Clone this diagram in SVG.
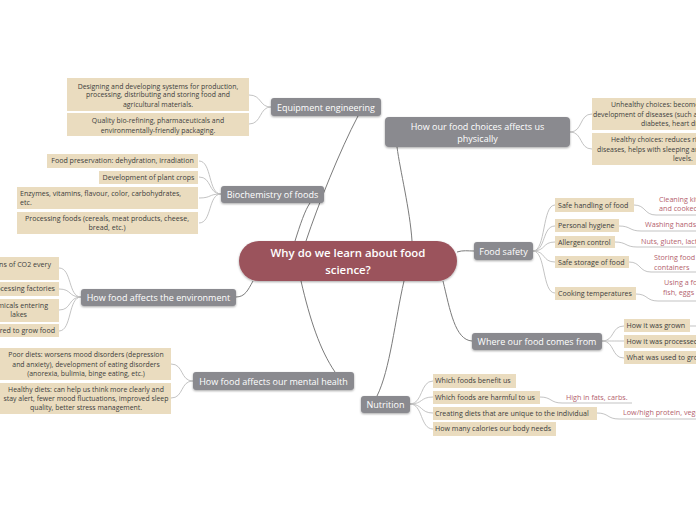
<svg xmlns="http://www.w3.org/2000/svg" width="696" height="520" viewBox="0 0 696 520">
<defs>
<filter id="sh" x="-10%" y="-20%" width="120%" height="160%"><feDropShadow dx="0" dy="1" stdDeviation="0.8" flood-color="#000" flood-opacity="0.35"/></filter>
<style>
.main rect{fill:#8a8a8f;filter:url(#sh)}
.main text{fill:#fff;font-family:"Open Sans","Liberation Sans",sans-serif;font-size:9px;text-anchor:middle}
.leaf rect{fill:#eadcbf}
.leaf text{fill:#3d3d3d;font-family:"Open Sans","Liberation Sans",sans-serif;font-size:7.1px}
.leaf.sm text{font-size:6.9px}
.pink text{fill:#b45f6e;font-family:"Open Sans","Liberation Sans",sans-serif;font-size:7.2px}
.c{fill:none;stroke:#7b7b7b;stroke-width:1}
.l{fill:none;stroke:#bcbcbc;stroke-width:0.9}
.m{text-anchor:middle}
.e{text-anchor:end}
</style>
</defs>
<rect width="696" height="520" fill="#fff"/>
<g id="connectors">
<path class="c" d="M306 241 C318 205 340 150 358 116"/>
<path class="c" d="M295 241 C300 225 305 210 310 203"/>
<path class="c" d="M412 241 C410 210 400 170 397 147"/>
<path class="c" d="M457 252 C463 250 468 251 474 251"/>
<path class="c" d="M443 281 C450 310 455 340 472 341"/>
<path class="c" d="M404 281 C395 320 390 370 377 396"/>
<path class="c" d="M301 281 C310 320 320 350 335 372"/>
<path class="c" d="M253 281 C248 290 245 297 236 297"/>
<path class="l" d="M271 107 C259 107 262 95 249 95"/>
<path class="l" d="M271 107 C259 107 262 124 249 124"/>
<path class="l" d="M221 194 C208 194 212 161 199 161"/>
<path class="l" d="M221 194 C208 194 212 177 199 177"/>
<path class="l" d="M221 194 C208 194 212 198 199 198"/>
<path class="l" d="M221 194 C208 194 212 223 199 223"/>
<path class="l" d="M81 297 C68 297 72 268 59 268"/>
<path class="l" d="M81 297 C68 297 72 289 59 289"/>
<path class="l" d="M81 297 C68 297 72 310 59 310"/>
<path class="l" d="M81 297 C68 297 72 331 59 331"/>
<path class="l" d="M193 381 C180 381 184 364 171 364"/>
<path class="l" d="M193 381 C180 381 184 398 171 398"/>
<path class="l" d="M570 132 C583 132 579 114 592 114"/>
<path class="l" d="M570 132 C583 132 579 149 592 149"/>
<path class="l" d="M533 251 C546 251 542 205 555 205"/>
<path class="l" d="M533 251 C546 251 542 226 555 226"/>
<path class="l" d="M533 251 C546 251 542 242 555 242"/>
<path class="l" d="M533 251 C546 251 542 262 555 262"/>
<path class="l" d="M533 251 C546 251 542 293 555 293"/>
<path class="l" d="M602 341 C615 341 611 326 624 326"/>
<path class="l" d="M602 341 C615 341 611 341 624 341"/>
<path class="l" d="M602 341 C615 341 611 358 624 358"/>
<path class="l" d="M690 326 L696 326"/>
<path class="l" d="M410 404 C423 404 420 381 433 381"/>
<path class="l" d="M410 404 C423 404 420 397 433 397"/>
<path class="l" d="M410 404 C423 404 420 413 433 413"/>
<path class="l" d="M410 404 C423 404 420 429 433 429"/>
<path class="l" d="M634 205 C646 205 644 215 656 215 L696 215"/>
<path class="l" d="M619 226 C631 226 629 231 641 231 L696 231"/>
<path class="l" d="M615 242 C627 242 625 247 637 247 L696 247"/>
<path class="l" d="M629 262 C641 262 639 272 651 272 L696 272"/>
<path class="l" d="M636 294 C648 294 646 301 658 301 L696 301"/>
<path class="l" d="M540 397 C552 397 550 403 562 403 L632 403"/>
<path class="l" d="M597 413 C609 413 607 419 619 419 L696 419"/>
</g>
<g id="center">
<rect x="239" y="241" width="218" height="40" rx="20" fill="#9b525c" filter="url(#sh)"/>
<text x="348" y="257" fill="#fff" font-family="'Open Sans','Liberation Sans',sans-serif" font-size="11.4" font-weight="600" text-anchor="middle">Why do we learn about food</text>
<text x="348" y="274" fill="#fff" font-family="'Open Sans','Liberation Sans',sans-serif" font-size="11.4" font-weight="600" text-anchor="middle">science?</text>
</g>
<g id="equipment" class="main"><rect x="271" y="98" width="110" height="18" rx="3"/><text x="326" y="110.5">Equipment engineering</text></g>
<g id="physically" class="main"><rect x="385" y="117" width="185" height="30" rx="4"/><text x="477.5" y="129.5">How our food choices affects us</text><text x="477.5" y="142">physically</text></g>
<g id="biochem" class="main"><rect x="221" y="186" width="103" height="17" rx="3"/><text x="272.5" y="197.5">Biochemistry of foods</text></g>
<g id="environment" class="main"><rect x="81" y="289" width="155" height="17" rx="3"/><text x="158.5" y="300.5">How food affects the environment</text></g>
<g id="safety" class="main"><rect x="474" y="242" width="59" height="18" rx="3"/><text x="503.5" y="254.5">Food safety</text></g>
<g id="comesfrom" class="main"><rect x="472" y="333" width="130" height="17" rx="3"/><text x="537" y="344.5">Where our food comes from</text></g>
<g id="mental" class="main"><rect x="193" y="372" width="161" height="18" rx="3"/><text x="273.5" y="384.5">How food affects our mental health</text></g>
<g id="nutrition" class="main"><rect x="361" y="396" width="49" height="17" rx="3"/><text x="385.5" y="407.5">Nutrition</text></g>
<g id="eq1" class="leaf sm"><rect x="67" y="78" width="182" height="33"/><text class="m" x="158" y="88.5">Designing and developing systems for production,</text><text class="m" x="158" y="97">processing, distributing and storing food and</text><text class="m" x="158" y="106.5">agricultural materials.</text></g>
<g id="eq2" class="leaf sm"><rect x="67" y="113" width="182" height="23"/><text class="m" x="158" y="123">Quality bio-refining, pharmaceuticals and</text><text class="m" x="158" y="132.5">environmentally-friendly packaging.</text></g>
<g id="bio1" class="leaf"><rect x="47" y="154" width="151" height="14"/><text class="m" x="122.5" y="163.3">Food preservation: dehydration, irradiation</text></g>
<g id="bio2" class="leaf"><rect x="99" y="171" width="99" height="13"/><text class="m" x="148.5" y="179.8">Development of plant crops</text></g>
<g id="bio3" class="leaf"><rect x="17" y="187" width="181" height="22"/><text x="20" y="195.8">Enzymes, vitamins, flavour, color, carbohydrates,</text><text x="20" y="205">etc.</text></g>
<g id="bio4" class="leaf"><rect x="17" y="212" width="181" height="22"/><text class="m" x="107" y="220.5">Processing foods (cereals, meat products, cheese,</text><text class="m" x="107" y="229.5">bread, etc.)</text></g>
<g id="env1" class="leaf"><rect x="-5" y="257" width="64" height="23"/><text class="e" x="51" y="267.3">tons of CO2 every</text></g>
<g id="env2" class="leaf"><rect x="-5" y="282" width="64" height="14"/><text class="e" x="55" y="291.3">processing factories</text></g>
<g id="env3" class="leaf"><rect x="-5" y="299" width="64" height="23"/><text class="e" x="48" y="308.3">chemicals entering</text><text class="e" x="27" y="317.3">lakes</text></g>
<g id="env4" class="leaf"><rect x="-5" y="324" width="64" height="13"/><text class="e" x="55" y="333">required to grow food</text></g>
<g id="men1" class="leaf sm"><rect x="-5" y="348" width="176" height="32"/><text class="m" x="86" y="357.3">Poor diets: worsens mood disorders (depression</text><text class="m" x="86" y="366.5">and anxiety), development of eating disorders</text><text class="m" x="86" y="375.8">(anorexia, bulimia, binge eating, etc.)</text></g>
<g id="men2" class="leaf sm"><rect x="-5" y="383" width="176" height="31"/><text class="m" x="86" y="391.5">Healthy diets: can help us think more clearly and</text><text class="m" x="86" y="400.5">stay alert, fewer mood fluctuations, improved sleep</text><text class="m" x="86" y="409.8">quality, better stress management.</text></g>
<g id="phys1" class="leaf sm"><rect x="592" y="98" width="110" height="32"/><text x="611" y="107.3">Unhealthy choices: become</text><text x="593" y="117">development of diseases (such as</text><text x="641" y="126.3">diabetes, heart disease)</text></g>
<g id="phys2" class="leaf sm"><rect x="592" y="133" width="110" height="32"/><text x="611" y="142.3">Healthy choices: reduces risk of</text><text x="597" y="152">diseases, helps with sleeping and energy</text><text x="673" y="161.3">levels.</text></g>
<g id="fs1" class="leaf"><rect x="555" y="198" width="79" height="14"/><text x="558" y="207.5">Safe handling of food</text></g>
<g id="fs2" class="leaf"><rect x="555" y="219" width="64" height="13"/><text x="558" y="228.3">Personal hygiene</text></g>
<g id="fs3" class="leaf"><rect x="555" y="236" width="60" height="12"/><text x="558" y="244.5">Allergen control</text></g>
<g id="fs4" class="leaf"><rect x="555" y="256" width="74" height="12"/><text x="558" y="264.5">Safe storage of food</text></g>
<g id="fs5" class="leaf"><rect x="555" y="287" width="81" height="13"/><text x="558" y="296">Cooking temperatures</text></g>
<g id="fs1a" class="pink"><text x="659" y="202.3">Cleaning kitchen</text><text x="659" y="211.3">and cooked food</text></g>
<g id="fs2a" class="pink"><text x="645" y="227.3">Washing hands</text></g>
<g id="fs3a" class="pink"><text x="641" y="244.3">Nuts, gluten, lactose</text></g>
<g id="fs4a" class="pink"><text x="654" y="260.3">Storing food in</text><text x="654" y="269.5">containers</text></g>
<g id="fs5a" class="pink"><text x="664" y="285.3">Using a food</text><text x="663" y="295">fish, eggs</text></g>
<g id="wf1" class="leaf"><rect x="624" y="319" width="66" height="13"/><text x="626.5" y="328">How it was grown</text></g>
<g id="wf2" class="leaf"><rect x="624" y="335" width="80" height="13"/><text x="626.5" y="344">How it was processed</text></g>
<g id="wf3" class="leaf"><rect x="624" y="351" width="80" height="13"/><text x="626.5" y="360">What was used to grow</text></g>
<g id="nu1" class="leaf"><rect x="433" y="374" width="83" height="14"/><text x="435" y="383.3">Which foods benefit us</text></g>
<g id="nu2" class="leaf"><rect x="433" y="391" width="107" height="13"/><text x="435" y="399.8">Which foods are harmful to us</text></g>
<g id="nu3" class="leaf"><rect x="433" y="407" width="164" height="13"/><text x="435" y="415.8">Creating diets that are unique to the individual</text></g>
<g id="nu4" class="leaf"><rect x="433" y="422" width="123" height="14"/><text x="435" y="431.3">How many calories our body needs</text></g>
<g id="nu2a" class="pink"><text x="566" y="400.3">High in fats, carbs.</text></g>
<g id="nu3a" class="pink"><text x="623" y="415.3">Low/high protein, vegetables</text></g>
</svg>
